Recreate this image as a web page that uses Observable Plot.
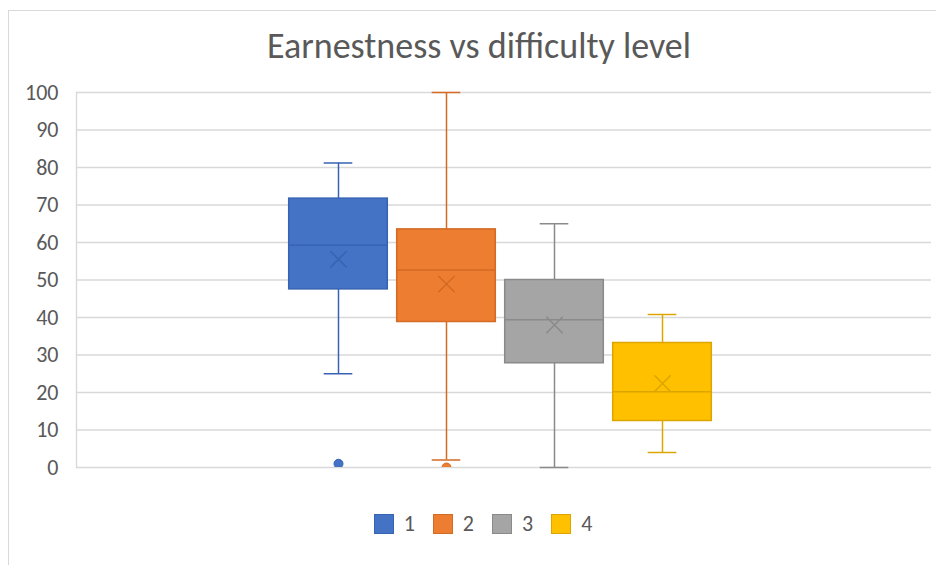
<!DOCTYPE html>
<html>
<head>
<meta charset="utf-8">
<script src="https://cdn.jsdelivr.net/npm/d3@7"></script>
<script src="https://cdn.jsdelivr.net/npm/@observablehq/plot@0.6"></script>
<style>
  html, body { margin: 0; padding: 0; background: #fff; overflow: hidden; width: 936px; height: 565px; }
  #border { position: absolute; left: 8px; top: 10px; width: 1000px; height: 700px; border: 1px solid #d9d9d9; pointer-events: none; }
  #title { position: relative; width: 958px; height: 80px; text-align: center; font-family: Carlito, Lato, sans-serif; font-size: 36px; line-height: 36px; box-sizing: border-box; color: #595959; }
  #title span { position: relative; top: 28px; }
  #chart { position: relative; height: 400px; }
  #legend { position: relative; width: 966px; display: flex; justify-content: center; padding-top: 33px; font-family: Carlito, Lato, sans-serif; font-size: 22px; line-height: 22px; color: #595959; }
  .item { display: flex; align-items: center; margin: 0 9px; }
  .sw { width: 18px; height: 18px; border: 1.5px solid; margin-right: 10px; }
</style>
</head>
<body>
<div id="border"></div>
<div id="title"><span>Earnestness vs difficulty level</span></div>
<div id="chart"></div>
<div id="legend"></div>
<script>
// Categories (difficulty levels)
const categories = ["1", "2", "3", "4"];
// Box-and-whisker statistics
const whiskerLow  = [25,   2,    0,    4];
const q1          = [47.5, 38.8, 27.8, 12.4];
const median      = [59.3, 52.7, 39.4, 20.2];
const q3          = [71.7, 63.5, 50,   33.2];
const whiskerHigh = [81.2, 100,  65,   40.8];
const means       = [55.5, 48.9, 38,   22.4];
// Outliers
const outlierCategories = ["1", "2"];
const outlierValues     = [1, 0];
// Y tick labels
const yTicks = [0, 10, 20, 30, 40, 50, 60, 70, 80, 90, 100];
// Colours
const fillColors   = ["#4472c4", "#ed7d31", "#a5a5a5", "#ffc000"];
const strokeColors = ["#3763b3", "#d46a24", "#8a8a8a", "#dca500"];

const rows = categories.map((c, i) => ({
  cat: c, lo: whiskerLow[i], q1: q1[i], med: median[i], q3: q3[i],
  hi: whiskerHigh[i], mean: means[i], fill: fillColors[i], stroke: strokeColors[i]
}));
const outliers = outlierCategories.map((c, i) => {
  const k = categories.indexOf(c);
  return { cat: c, v: outlierValues[i], fill: fillColors[k], stroke: strokeColors[k] };
});

const chart = Plot.plot({
  width: 936,
  height: 400,
  marginTop: 12,
  marginBottom: 13,
  marginLeft: 76,
  marginRight: 5,
  style: { fontFamily: "Carlito, Lato, sans-serif", fontSize: "22px", color: "#595959", background: "transparent" },
  x: { domain: categories, range: [282.8, 716.2], padding: 0, axis: null },
  y: { domain: [0, 100], ticks: yTicks, tickSize: 0, tickPadding: 18, label: null },
  color: { type: "identity" },
  marks: [
    Plot.ruleY(yTicks, { stroke: "#d9d9d9", strokeWidth: 1.4 }),
    Plot.frame({ anchor: "left", stroke: "#d9d9d9", strokeWidth: 1.4 }),
    Plot.ruleX(rows, { x: "cat", y1: "lo", y2: "hi", stroke: "stroke", strokeWidth: 1.5 }),
    Plot.tickY(rows, { x: "cat", y: "lo", stroke: "stroke", strokeWidth: 1.5, insetLeft: 39.7, insetRight: 39.7 }),
    Plot.tickY(rows, { x: "cat", y: "hi", stroke: "stroke", strokeWidth: 1.5, insetLeft: 39.7, insetRight: 39.7 }),
    Plot.barY(rows, { x: "cat", y1: "q1", y2: "q3", fill: "fill", stroke: "stroke", strokeWidth: 1.5, insetLeft: 4.7, insetRight: 4.7 }),
    Plot.tickY(rows, { x: "cat", y: "med", stroke: "stroke", strokeWidth: 1.5, insetLeft: 4.7, insetRight: 4.7 }),
    Plot.dot(rows, { x: "cat", y: "mean", symbol: "times", r: 7.5, stroke: "stroke", strokeWidth: 1.5 }),
    Plot.dot(outliers, { x: "cat", y: "v", r: 4.5, fill: "fill", stroke: "stroke", strokeWidth: 1, clip: "frame" })
  ]
});
document.getElementById("chart").appendChild(chart);

const legend = document.getElementById("legend");
categories.forEach((c, i) => {
  const item = document.createElement("div");
  item.className = "item";
  const sw = document.createElement("div");
  sw.className = "sw";
  sw.style.background = fillColors[i];
  sw.style.borderColor = strokeColors[i];
  const lab = document.createElement("span");
  lab.textContent = c;
  item.appendChild(sw);
  item.appendChild(lab);
  legend.appendChild(item);
});
</script>
</body>
</html>
